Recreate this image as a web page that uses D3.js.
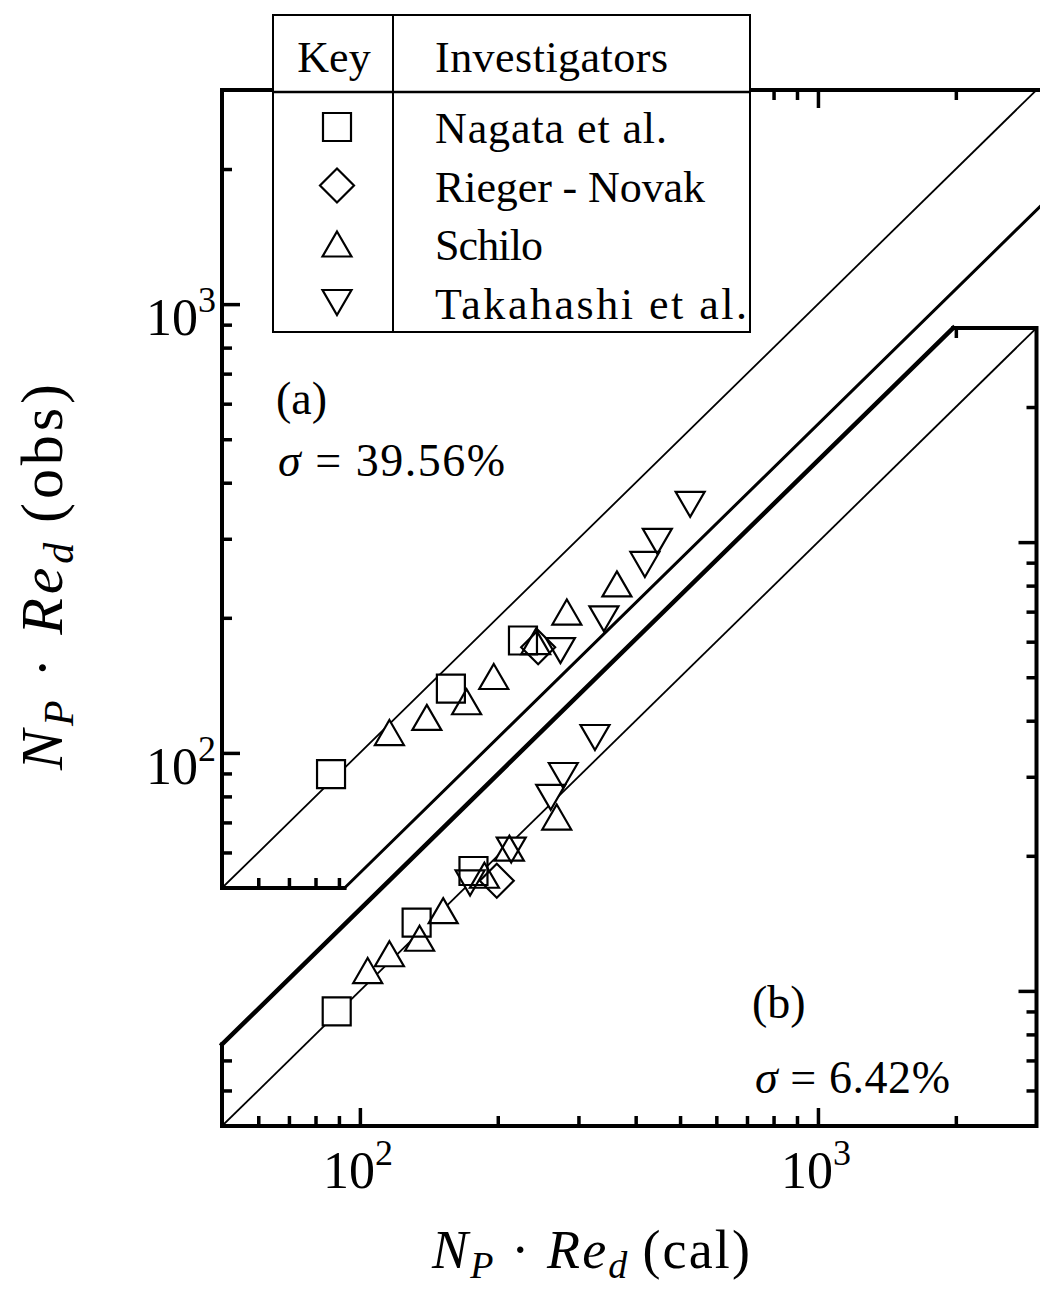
<!DOCTYPE html>
<html><head><meta charset="utf-8">
<script src="https://cdn.jsdelivr.net/npm/d3@7"></script>
<style>body{margin:0;background:#fff}</style>
</head><body><svg id="c" width="1040" height="1290" font-family="'Liberation Serif', 'DejaVu Serif', serif"></svg>
<script>
// ---------------- data ----------------
const seriesNames = ["Nagata et al.", "Rieger - Novak", "Schilo", "Takahashi et al."];
const seriesSymbols = ["square", "diamond", "triUp", "triDown"];

// panel (a): [NP*Re(cal), NP*Re(obs)]
const aNagata    = [[86.5, 89.7], [158, 139], [227, 178]];
const aRieger    = [[245, 172]];
const aSchilo    = [[116, 111], [140, 120], [171, 130], [196, 148], [242, 177], [283, 206], [364, 238]];
const aTakahashi = [[274, 169], [341, 199], [419, 263], [446, 296], [526, 358]];

// panel (b)
const bNagata    = [[89, 90], [133, 142], [177, 185]];
const bRieger    = [[199, 176]];
const bSchilo    = [[104, 111], [116, 121], [135, 131], [152, 151], [187, 181], [212, 208], [269, 244]];
const bTakahashi = [[174, 174], [214, 206], [261, 270], [278, 302], [326, 367]];

const axisDomain = [50, 3000];
const majorTickValues = [100, 1000];
const minorTickValues = [60, 70, 80, 90, 200, 300, 400, 500, 600, 700, 800, 900, 2000];
const tickLabels = [{v: 100, base: "10", exp: "2"}, {v: 1000, base: "10", exp: "3"}];
const panelLabels = ["(a)", "(b)"];
const sigmaValues = ["39.56%", "6.42%"];
const aCutRatio = 0.54;   // lower boundary of panel (a) region: obs = 0.54 * cal
const bCutRatio = 1.52;   // upper boundary of panel (b) region: obs = 1.52 * cal

// ---------------- scales ----------------
const FONT = "'Liberation Serif', 'Times New Roman', 'DejaVu Serif', serif";
const svg = d3.select("#c");
svg.append("rect").attr("width", 1040).attr("height", 1290).attr("fill", "#fff");
const x  = d3.scaleLog().domain(axisDomain).range([222, 1036.5]);
const ya = d3.scaleLog().domain(axisDomain).range([888, 90]);
const yb = d3.scaleLog().domain(axisDomain).range([1126, 328]);
const lo = axisDomain[0], hi = axisDomain[1];

function poly(ys, pts, w) {
  svg.append("path")
    .attr("d", d3.line().x(d => x(d[0])).y(d => ys(d[1]))(pts))
    .attr("fill", "none").attr("stroke", "#000").attr("stroke-width", w)
    .attr("stroke-linejoin", "miter").attr("stroke-linecap", "square");
}

// panel (b) frame + cut + parity
poly(yb, [[lo, lo * bCutRatio], [lo, lo], [hi, lo], [hi, hi], [hi / bCutRatio, hi]], 4);
poly(yb, [[lo, lo * bCutRatio], [hi / bCutRatio, hi]], 4.5);
poly(yb, [[lo, lo], [hi, hi]], 1.8);
// panel (a) frame + cut + parity
poly(ya, [[3150, hi], [lo, hi], [lo, lo], [lo / aCutRatio, lo]], 4);
poly(ya, [[lo / aCutRatio, lo], [3150, 3150 * aCutRatio]], 3);
poly(ya, [[lo, lo], [hi, hi]], 1.8);

// ---------------- ticks (d3 axes) ----------------
function ticks(gen, scale, values, size, tr) {
  const g = svg.append("g").attr("transform", tr)
    .call(gen(scale).tickValues(values).tickSize(size).tickFormat(""));
  g.select(".domain").remove();
  g.selectAll(".tick line").attr("stroke", "#000").attr("stroke-width", 3.5);
}
const MAJ = 18, MIN = 10;
ticks(d3.axisRight, ya, majorTickValues, MAJ, "translate(222,0)");
ticks(d3.axisRight, ya, minorTickValues, MIN, "translate(222,0)");
ticks(d3.axisTop, x, minorTickValues.filter(v => v < 100 && v < lo / aCutRatio), MIN, `translate(0,${ya(lo)})`);
ticks(d3.axisBottom, x, majorTickValues, MAJ, `translate(0,${ya(hi)})`);
ticks(d3.axisBottom, x, minorTickValues.filter(v => v > 100), MIN, `translate(0,${ya(hi)})`);
ticks(d3.axisTop, x, majorTickValues, MAJ, `translate(0,${yb(lo)})`);
ticks(d3.axisTop, x, minorTickValues, MIN, `translate(0,${yb(lo)})`);
ticks(d3.axisRight, yb, minorTickValues.filter(v => v < lo * bCutRatio), MIN, "translate(222,0)");
ticks(d3.axisLeft, yb, majorTickValues, MAJ, `translate(${x(hi)},0)`);
ticks(d3.axisLeft, yb, minorTickValues, MIN, `translate(${x(hi)},0)`);
ticks(d3.axisBottom, x, minorTickValues.filter(v => v > hi / bCutRatio), MIN, `translate(0,${yb(hi)})`);

// ---------------- markers ----------------
function symPath(type) {
  const s = 28, d = 34, tw = 29, th = 25;
  switch (type) {
    case "square":  return `M${-s/2},${-s/2}h${s}v${s}h${-s}Z`;
    case "diamond": return `M0,${-d/2}L${d/2},0L0,${d/2}L${-d/2},0Z`;
    case "triUp":   return `M0,${-th/2}L${tw/2},${th/2}L${-tw/2},${th/2}Z`;
    case "triDown": return `M0,${th/2}L${tw/2},${-th/2}L${-tw/2},${-th/2}Z`;
  }
}
const panelA = [aNagata, aRieger, aSchilo, aTakahashi];
const panelB = [bNagata, bRieger, bSchilo, bTakahashi];
function drawMarkers(series, ys, fill, stroke) {
  series.forEach((pts, i) => {
    svg.append("g").selectAll("path").data(pts).join("path")
      .attr("transform", d => `translate(${x(d[0])},${ys(d[1])})`)
      .attr("d", symPath(seriesSymbols[i]))
      .attr("fill", fill).attr("stroke", stroke).attr("stroke-width", 2.2);
  });
}
drawMarkers(panelA, ya, "#fff", "none");
drawMarkers(panelB, yb, "#fff", "none");
drawMarkers(panelA, ya, "none", "#000");
drawMarkers(panelB, yb, "none", "#000");

function txt(parent) {
  return parent.append("text").attr("font-family", FONT).attr("fill", "#000");
}

// ---------------- legend ----------------
const L = {x0: 273, x1: 750, y0: 15, y1: 332, div: 393, head: 92};
const legendTextLen = [232, 270, 108, 312];
const lg = svg.append("g");
lg.append("rect").attr("x", L.x0).attr("y", L.y0).attr("width", L.x1 - L.x0).attr("height", L.y1 - L.y0)
  .attr("fill", "#fff").attr("stroke", "#000").attr("stroke-width", 2);
lg.append("line").attr("x1", L.div).attr("x2", L.div).attr("y1", L.y0).attr("y2", L.y1).attr("stroke", "#000").attr("stroke-width", 2);
lg.append("line").attr("x1", L.x0).attr("x2", L.x1).attr("y1", L.head).attr("y2", L.head).attr("stroke", "#000").attr("stroke-width", 2.5);
txt(lg).attr("x", 334).attr("y", 72).attr("text-anchor", "middle").attr("font-size", 44).text("Key");
txt(lg).attr("x", 435).attr("y", 72).attr("font-size", 44).attr("textLength", 233).attr("lengthAdjust", "spacing").text("Investigators");
seriesNames.forEach((n, i) => {
  const cy = 127 + i * 58.5;
  lg.append("path").attr("transform", `translate(337,${cy})`).attr("d", symPath(seriesSymbols[i]))
    .attr("fill", "none").attr("stroke", "#000").attr("stroke-width", 2.2);
  txt(lg).attr("x", 435).attr("y", cy + 16).attr("font-size", 44)
    .attr("textLength", legendTextLen[i]).attr("lengthAdjust", "spacing").text(n);
});

// ---------------- tick labels ----------------
tickLabels.forEach(t => {
  const ty = txt(svg).attr("x", 216).attr("y", ya(t.v) + 31).attr("text-anchor", "end").attr("font-size", 52);
  ty.append("tspan").text(t.base);
  ty.append("tspan").attr("font-size", 36).attr("dy", -23).text(t.exp);
  const tx = txt(svg).attr("x", x(t.v) - 2).attr("y", 1188).attr("text-anchor", "middle").attr("font-size", 52);
  tx.append("tspan").text(t.base);
  tx.append("tspan").attr("font-size", 36).attr("dy", -23).text(t.exp);
});

// ---------------- axis titles ----------------
function mathTitle(g, suffix, fs) {
  const sub = Math.round(fs * 0.7), dy = Math.round(fs * 0.18);
  g.append("tspan").attr("font-style", "italic").text("N");
  g.append("tspan").attr("font-style", "italic").attr("font-size", sub).attr("dy", dy).text("P");
  g.append("tspan").attr("dy", -dy).text(" · ");
  g.append("tspan").attr("font-style", "italic").text("Re");
  g.append("tspan").attr("font-style", "italic").attr("font-size", sub).attr("dy", dy).text("d");
  g.append("tspan").attr("dy", -dy).text("\u2009(" + suffix + ")");
}
mathTitle(txt(svg).attr("x", 432).attr("y", 1268).attr("font-size", 54)
  .attr("textLength", 318).attr("lengthAdjust", "spacing"), "cal", 54);
mathTitle(txt(svg).attr("transform", "translate(62,770) rotate(-90)").attr("font-size", 60)
  .attr("textLength", 386).attr("lengthAdjust", "spacing"), "obs", 60);

// ---------------- annotations ----------------
txt(svg).attr("x", 276).attr("y", 414).attr("font-size", 46).text(panelLabels[0]);
const s1 = txt(svg).attr("x", 278).attr("y", 476).attr("font-size", 46).attr("textLength", 227).attr("lengthAdjust", "spacing");
s1.append("tspan").attr("font-style", "italic").text("σ");
s1.append("tspan").text(" = " + sigmaValues[0]);
txt(svg).attr("x", 752).attr("y", 1018).attr("font-size", 46).text(panelLabels[1]);
const s2 = txt(svg).attr("x", 755).attr("y", 1093).attr("font-size", 46).attr("textLength", 195).attr("lengthAdjust", "spacing");
s2.append("tspan").attr("font-style", "italic").text("σ");
s2.append("tspan").text(" = " + sigmaValues[1]);
</script></body></html>
